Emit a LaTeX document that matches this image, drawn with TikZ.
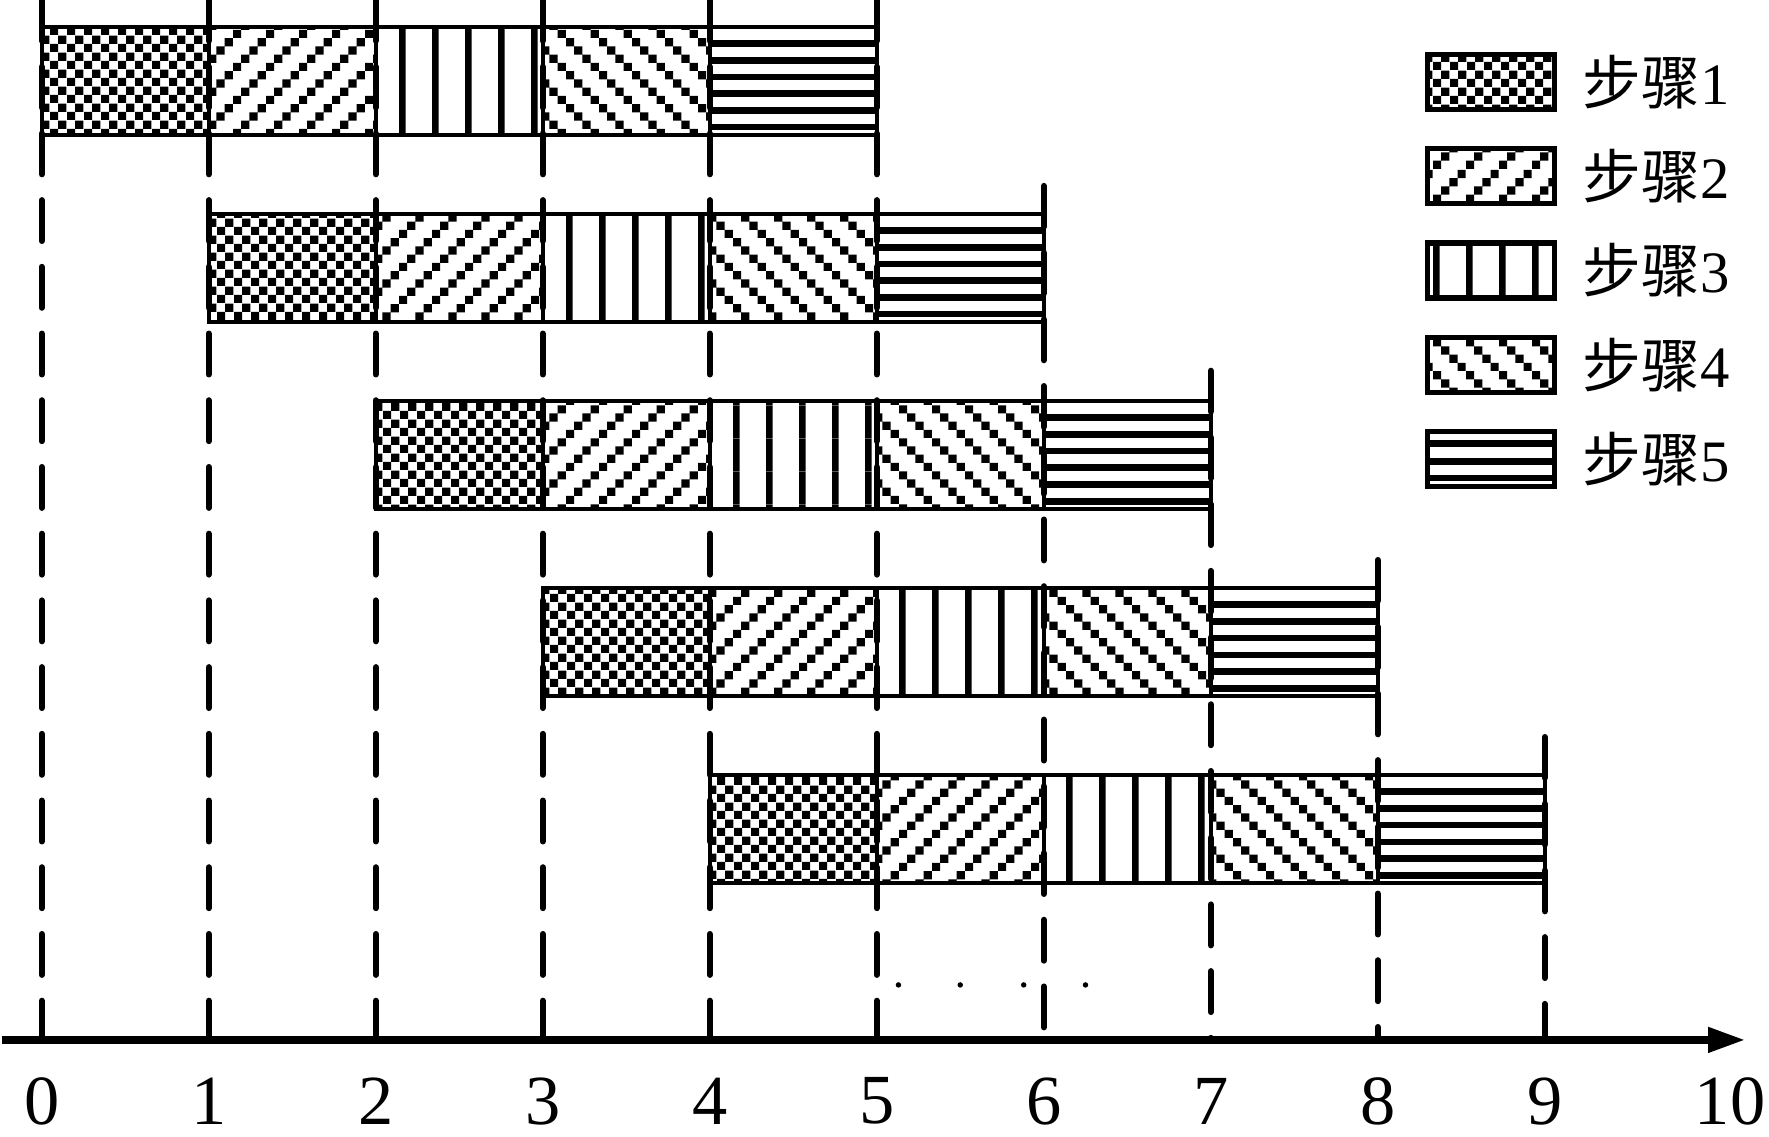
\documentclass[tikz,border=0pt]{standalone}
\usepackage{fontspec}
\setmainfont{Liberation Serif}
\newfontfamily\cjk{Noto Sans CJK SC}
\usepackage{tikz}
\usetikzlibrary{arrows.meta,patterns}

% pixel fills of the steps 1 to 4
\newdimen\sq \sq=2.13pt
\pgfdeclarepatternformonly{chk}{\pgfpointorigin}{\pgfqpoint{2\sq}{2\sq}}{\pgfqpoint{2\sq}{2\sq}}{%
  \pgfpathrectangle{\pgfpointorigin}{\pgfqpoint{\sq}{\sq}}%
  \pgfpathrectangle{\pgfqpoint{\sq}{\sq}}{\pgfqpoint{\sq}{\sq}}%
  \pgfusepath{fill}}
\pgfdeclarepatternformonly{nel}{\pgfpointorigin}{\pgfqpoint{4\sq}{4\sq}}{\pgfqpoint{4\sq}{4\sq}}{%
  \pgfpathrectangle{\pgfpointorigin}{\pgfqpoint{\sq}{\sq}}%
  \pgfpathrectangle{\pgfqpoint{\sq}{\sq}}{\pgfqpoint{\sq}{\sq}}%
  \pgfpathrectangle{\pgfqpoint{2\sq}{2\sq}}{\pgfqpoint{\sq}{\sq}}%
  \pgfpathrectangle{\pgfqpoint{3\sq}{3\sq}}{\pgfqpoint{\sq}{\sq}}%
  \pgfusepath{fill}}
\pgfdeclarepatternformonly{nwl}{\pgfpointorigin}{\pgfqpoint{4\sq}{4\sq}}{\pgfqpoint{4\sq}{4\sq}}{%
  \pgfpathrectangle{\pgfqpoint{0pt}{3\sq}}{\pgfqpoint{\sq}{\sq}}%
  \pgfpathrectangle{\pgfqpoint{\sq}{2\sq}}{\pgfqpoint{\sq}{\sq}}%
  \pgfpathrectangle{\pgfqpoint{2\sq}{\sq}}{\pgfqpoint{\sq}{\sq}}%
  \pgfpathrectangle{\pgfqpoint{3\sq}{0pt}}{\pgfqpoint{\sq}{\sq}}%
  \pgfusepath{fill}}
\pgfdeclarepatternformonly{vl}{\pgfpointorigin}{\pgfqpoint{4\sq}{4\sq}}{\pgfqpoint{4\sq}{4\sq}}{%
  \pgfpathrectangle{\pgfpointorigin}{\pgfqpoint{.8\sq}{4\sq}}%
  \pgfusepath{fill}}

\begin{document}
\begin{tikzpicture}[x=1.5cm,y=1cm,
        cell/.style={draw, line width=0.9pt},
        bar5/.style={line width=1.7pt},
        guide/.style={line width=1.6pt, line cap=round, dash pattern=on 10.4pt off 6.65pt},
        legbox/.style={draw, line width=1.3pt},
        tick/.style={font=\fontsize{18}{18}\selectfont, inner sep=0pt}]
        \useasboundingbox (-0.25,-0.871) rectangle (10.343,9.341);

        % Time lines
        \foreach \t/\yt in {0/9.34,1/9.34,2/9.34,3/9.34,4/9.34,5/9.34,6/7.67,7/6.01,8/4.31,9/2.72}
            \draw[guide] (\t,\yt) -- (\t,0);

        % Tasks, one row each
        \foreach \r in {0,...,4}{
            \foreach \s/\p in {0/chk,1/nel,2/vl,3/nwl}
                \draw[cell, pattern=\p] ({\r+\s},{9.099-1.68*\r}) rectangle ++(1,-0.97);
            % step 5: thick stripes
            \foreach \k in {1,...,6}
                \draw[bar5] ({\r+4},{9.099-1.68*\r-0.15*\k}) -- ++(1,0);
            \draw[cell] ({\r+4},{9.099-1.68*\r}) rectangle ++(1,-0.97);
        }

        % Axis
        \coordinate (o) at (-0.24,0);
        \coordinate (e) at (10.205,0);
        \draw[line width=2.2pt, -{Triangle[length=9.7pt,width=6pt]}] (o) -- (e);
        \foreach \t in {0,...,9}
            \node[tick] (n\t) at (\t,-0.55) {\t};
        \node[tick] (n10) at (10.11,-0.55) {10};

        % Dots
        \foreach \d in {5.13,5.5,5.88,6.25}
            \fill (\d,0.494) circle (0.7pt);

        % Legend
        \foreach \p [count=\i] in {chk,nel,vl,nwl}
            \draw[legbox, pattern=\p] (8.298,{8.605-0.847*(\i-1)-0.247}) rectangle (9.059,{8.605-0.847*(\i-1)+0.247});
        \foreach \k in {0.14,-0.02,-0.17}
            \draw[bar5] (8.298,{8.605-0.847*4+\k}) -- (9.059,{8.605-0.847*4+\k});
        \draw[legbox] (8.298,{8.605-0.847*4-0.247}) rectangle (9.059,{8.605-0.847*4+0.247});
        \foreach \i in {1,...,5}
            \node[anchor=west, inner sep=0pt, font=\fontsize{15}{15}\selectfont] (step\i) at (9.224,{8.605-0.847*(\i-1)}) {{\cjk 步骤}\i};
\end{tikzpicture}
\end{document}
